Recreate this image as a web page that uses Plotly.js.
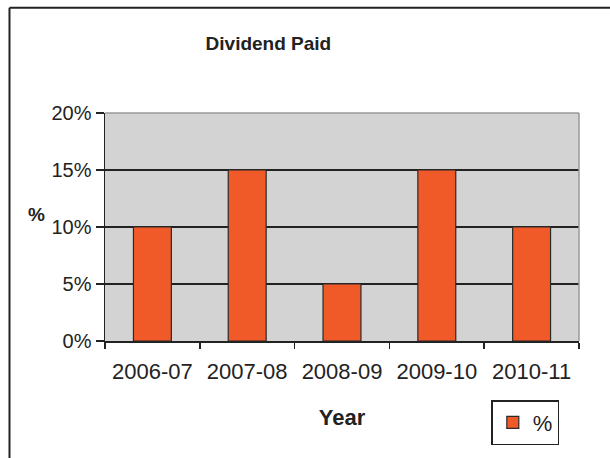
<!DOCTYPE html>
<html>
<head>
<meta charset="utf-8">
<script src="https://cdn.plot.ly/plotly-3.0.1.min.js"></script>
<style>
  html, body { margin: 0; padding: 0; background: #fff; overflow: hidden; }
  #chart { width: 610px; height: 458px; overflow: hidden; }
</style>
</head>
<body>
<div id="chart"></div>
<script>
const years = ["2006-07", "2007-08", "2008-09", "2009-10", "2010-11"];
const dividendPct = [0.10, 0.15, 0.05, 0.15, 0.10];
const seriesName = "%";
const yTickVals = [0, 0.05, 0.10, 0.15, 0.20];
const yTickText = ["0%", "5%", "10%", "15%", "20%"];

const fontFam = "Liberation Sans, Arial, sans-serif";

const trace = {
  type: "bar",
  x: years,
  y: dividendPct,
  name: seriesName,
  showlegend: true,
  marker: { color: "#F05A28", line: { color: "#2a2a2a", width: 1.2 } },
  hoverinfo: "x+y"
};

const layout = {
  width: 610,
  height: 458,
  margin: { l: 105, r: 31, t: 113, b: 117 },
  paper_bgcolor: "#ffffff",
  plot_bgcolor: "#d3d3d3",
  bargap: 0.6,
  font: { family: fontFam, color: "#222222", size: 20 },
  title: {
    text: "<b>Dividend Paid</b>",
    font: { family: fontFam, size: 19, color: "#222222" },
    x: 0.44, xref: "container", xanchor: "center",
    y: 0.906, yref: "container", yanchor: "middle"
  },
  xaxis: {
    type: "category",
    tickson: "boundaries",
    ticks: "outside",
    ticklen: 6,
    tickwidth: 1.5,
    tickcolor: "#222222",
    showline: true,
    linecolor: "#222222",
    linewidth: 1.5,
    showgrid: false,
    ticklabelstandoff: 10,
    tickfont: { family: fontFam, size: 22, color: "#222222" },
    title: { text: "<b>Year</b>", font: { family: fontFam, size: 22, color: "#222222" }, standoff: 26 },
    automargin: false,
    fixedrange: true
  },
  yaxis: {
    range: [0, 0.2],
    tickvals: yTickVals,
    ticktext: yTickText,
    ticks: "outside",
    ticklen: 8,
    tickwidth: 1.5,
    tickcolor: "#222222",
    showline: true,
    linecolor: "#222222",
    linewidth: 1.5,
    showgrid: true,
    gridcolor: "#222222",
    gridwidth: 1.5,
    zeroline: false,
    tickfont: { family: fontFam, size: 20, color: "#222222" },
    automargin: false,
    fixedrange: true
  },
  legend: {
    x: 0.815, y: -0.259, xanchor: "left", yanchor: "top",
    xref: "paper", yref: "paper",
    bordercolor: "#222222", borderwidth: 1.5,
    bgcolor: "#ffffff",
    font: { family: fontFam, size: 22, color: "#222222" },
    itemwidth: 30
  },
  annotations: [
    {
      text: "<b>%</b>", xref: "paper", yref: "paper",
      x: -0.1435, y: 0.553, xanchor: "center", yanchor: "middle", showarrow: false,
      font: { family: fontFam, size: 19, color: "#222222" }
    }
  ],
  shapes: [
    { type: "line", xref: "paper", yref: "paper", x0: 0, x1: 1, y0: 1, y1: 1,
      line: { color: "#9a9a9a", width: 1.5 } },
    { type: "line", xref: "paper", yref: "paper", x0: 1, x1: 1, y0: 0, y1: 1,
      line: { color: "#9a9a9a", width: 1.5 } },
    // outer chart border (top and left edges visible in the frame)
    { type: "line", xref: "paper", yref: "paper", x0: -0.2015, x1: 1.3, y0: 1.462, y1: 1.462,
      line: { color: "#222222", width: 2 } },
    { type: "line", xref: "paper", yref: "paper", x0: -0.2015, x1: -0.2015, y0: 1.462, y1: -0.7,
      line: { color: "#222222", width: 2 } }
  ]
};

Plotly.newPlot("chart", [trace], layout, { displayModeBar: false, staticPlot: true });
</script>
</body>
</html>
